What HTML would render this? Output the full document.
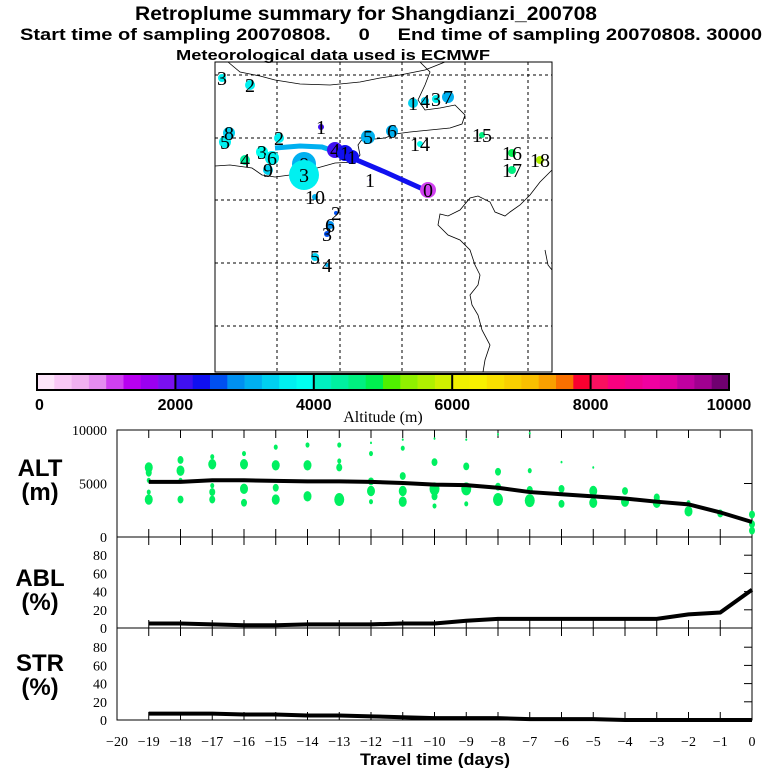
<!DOCTYPE html>
<html><head><meta charset="utf-8"><style>
html,body{margin:0;padding:0;background:#fff;}
svg{display:block;font-family:"Liberation Sans",sans-serif;}
</style></head><body>
<svg id="fig" width="768" height="768" viewBox="0 0 768 768">
<g font-weight="bold" text-anchor="middle">
<text x="366" y="20" font-size="19" textLength="462" lengthAdjust="spacingAndGlyphs">Retroplume summary for Shangdianzi_200708</text>
<text x="391" y="40" font-size="17" textLength="742" lengthAdjust="spacingAndGlyphs" style="white-space:pre" xml:space="preserve">Start time of sampling 20070808.     0     End time of sampling 20070808. 30000</text>
<text x="333" y="60" font-size="15" textLength="314" lengthAdjust="spacingAndGlyphs">Meteorological data used is ECMWF</text>
</g>

<g id="map">
<rect x="215" y="62" width="337" height="310" fill="none" stroke="#000" stroke-width="1"/>
<g stroke="#000" stroke-dasharray="3,3" stroke-width="1">
<line x1="277" y1="62" x2="277" y2="372"/><line x1="340" y1="62" x2="340" y2="372"/><line x1="402" y1="62" x2="402" y2="372"/><line x1="465" y1="62" x2="465" y2="372"/><line x1="528" y1="62" x2="528" y2="372"/>
<line x1="215" y1="75" x2="552" y2="75"/><line x1="215" y1="138" x2="552" y2="138"/><line x1="215" y1="200" x2="552" y2="200"/><line x1="215" y1="263" x2="552" y2="263"/><line x1="215" y1="326" x2="552" y2="326"/>
</g>
<g fill="none" stroke="#000" stroke-width="0.8">
<path d="M228,62 L240,72 L260,76 L275,80 L300,84 L330,85 L360,82 L380,78 L400,75 L425,70 L445,62"/>
<path d="M420,62 L430,72 L425,85 L418,100 L425,110 L440,108 L455,105 L465,115 L462,124 L450,128 L430,130 L410,132 L395,134 L385,138 L375,139 L363,138 L358,145 L360,155 L355,162 L335,163 L310,170 L290,175 L275,177 L262,175 L252,168 L230,165 L215,166"/>
<path d="M552,170 L540,182 L530,195 L520,205 L510,212 L505,216 L495,212 L490,202 L478,196 L470,198 L460,210 L448,216 L440,214 L438,225 L448,235 L460,240 L470,250 L475,265 L480,275 L478,285 L470,295 L472,305 L478,315 L482,330 L490,345 L485,360 L483,372"/>
<path d="M545,250 L548,265 L552,270"/>
</g>
<g>
<polyline points="275,148 300,146 322,147 345,155" fill="none" stroke="#00b0f0" stroke-width="5"/>
<polyline points="345,155 385,172 425,190" fill="none" stroke="#1010f0" stroke-width="5"/>
</g>
<g id="plumes" font-family="'Liberation Serif',serif" font-size="20" fill="#000"></g>
</g>

<g id="cbar"></g>
<text x="383" y="422" font-family="'Liberation Serif',serif" font-size="16" text-anchor="middle">Altitude (m)</text>

<g id="panels"></g>
</svg>
<script>
const NS='http://www.w3.org/2000/svg';
function mk(tag,attrs,parent,txt){const e=document.createElementNS(NS,tag);for(const k in attrs)e.setAttribute(k,attrs[k]);if(txt!==undefined)e.textContent=txt;parent.appendChild(e);return e;}

// ---- colorbar data ----
const cbColors=['#fde6fa','#f9c8f6','#f0b0f0','#e58cf0','#d040f0','#b800f0','#9a00f0','#7a10f0',
'#4010f0','#1010f0','#0050f0','#0090f0','#00b0f0','#00d0f0','#00f0f0','#00fff0',
'#00f0c0','#00f0a0','#00f080','#00f050','#50f000','#90f000','#b0f000','#d0f000',
'#f0f000','#f8f000','#fae000','#fad000','#fac000','#faa000','#fa7000','#fa0030',
'#fa1060','#fa0080','#f00090','#f000a0','#e000a0','#c000a0','#a00090','#700070'];
const cbTicks=[0,2000,4000,6000,8000,10000];

// ---- time-series data ----
const days=[-19,-18,-17,-16,-15,-14,-13,-12,-11,-10,-9,-8,-7,-6,-5,-4,-3,-2,-1,0];
const altLine=[5150,5150,5300,5300,5250,5200,5200,5150,5050,4900,4850,4600,4200,4000,3800,3600,3300,3050,2300,1400];
const ablLine=[5,5,4,3,3,4,4,4,5,5,8,10,10,10,10,10,10,15,17,42];
const strLine=[7,7,7,6,6,5,5,4,3,2,2,2,1,1,1,0,0,0,0,0];
const altPtDay=[-19,-19,-19,-19,-19,-18,-18,-18,-18,-17,-17,-17,-17,-17,-16,-16,-16,-16,-15,-15,-15,-15,-14,-14,-14,-13,-13,-13,-13,-12,-12,-12,-12,-12,-11,-11,-11,-11,-11,-10,-10,-10,-10,-10,-9,-9,-9,-9,-8,-8,-8,-8,-7,-7,-7,-7,-6,-6,-6,-5,-5,-5,-4,-4,-3,-3,-2,-2,-1,0,0,0];
const altPtVal=[6500,6000,5300,4200,3500,7200,6200,5300,3500,7500,6800,4800,4200,3500,7800,6800,4500,3200,8400,6700,4600,3500,8600,6700,3800,8600,7100,6500,3500,8800,7800,5200,4300,3300,9100,8300,5700,4300,3300,9200,7000,4500,3800,2900,9100,6600,4500,3100,9600,6100,4700,3500,9700,6200,4400,3400,7000,4500,3100,6500,4300,3200,4300,3300,3700,3200,3200,2400,2200,2100,1200,600];
const altPtSize=[4,3,2,2,4,3,4,2,3,2,4,2,3,3,2,4,4,3,2,4,3,4,2,4,4,2,2,3,5,1,2,3,4,2,1,2,3,4,4,1,3,5,3,2,1,3,5,2,1,3,3,5,1,2,3,5,1,3,3,1,4,4,3,4,3,4,2,4,3,3,3,3];
const dayTicks=[-20,-19,-18,-17,-16,-15,-14,-13,-12,-11,-10,-9,-8,-7,-6,-5,-4,-3,-2,-1,0];
const pctTicks=[0,20,40,60,80];
const altTicks=[0,5000,10000];

// ---- plume marker data (map) ----
const plumeLabel=['3','2','1','4','3','7','5','8','1','4','1','1','5','6','14','15','16','17','18','2','3','4','6','9','8','3','1','10','2','6','3','5','4','0'];
const plumeLon=[222,250,413,425,436,448,225,229,321,335,345,352,368,392,420,482,512,512,540,279,262,245,272,268,304,304,370,315,336,330,327,315,327,428];
const plumeLat=[78,85,103,101,99,97,142,133,127,150,153,157,137,131,144,135,153,170,160,138,152,160,158,170,164,175,180,197,213,225,234,257,265,190];
const plumeAlt=[3500,3500,3400,3400,3500,3200,3600,3400,2100,2200,2300,2300,3000,3200,3800,4700,4900,4700,5600,3600,3800,4300,3500,3400,3000,3600,2200,3000,2700,2800,2500,3400,3000,1000];
const plumeSize=[4,5,5,4,4,6,6,6,3,8,8,7,7,6,3,3,4,4,4,5,6,5,7,5,12,15,1,3,2,4,3,4,2,8];

function altColor(a){return cbColors[Math.max(0,Math.min(39,Math.floor(a/250)))];}

// colorbar
const cb=document.getElementById('cbar');
const cbX0=37,cbX1=729,cbY=374,cbH=16,cw=(cbX1-cbX0)/cbColors.length;
cbColors.forEach((c,i)=>{const r=mk('rect',{x:cbX0+i*cw,y:cbY,width:cw+0.3,height:cbH,fill:c},cb);

});
mk('rect',{x:cbX0,y:cbY,width:cbX1-cbX0,height:cbH,fill:'none',stroke:'#000','stroke-width':2},cb);
cbTicks.forEach(t=>{const x=cbX0+(t/10000)*(cbX1-cbX0);
if(t>0&&t<10000)mk('line',{x1:x,y1:cbY,x2:x,y2:cbY+cbH,stroke:'#000','stroke-width':2},cb);
const tx=mk('text',{x:t===0?x-2:x,y:410,'font-size':16,'font-weight':'bold','text-anchor':t===0?'start':'middle'},cb,String(t));

});

// plume markers
const pg=document.getElementById('plumes');
plumeLabel.forEach((l,i)=>{
const c=mk('circle',{cx:plumeLon[i],cy:plumeLat[i],r:plumeSize[i],fill:altColor(plumeAlt[i])},pg);


const t=mk('text',{x:plumeLon[i],y:plumeLat[i]+7,'text-anchor':'middle'},pg,l);

});

// panels
const P=document.getElementById('panels');
const xL=117,xR=752;
const xs=d=>xL+(d+20)/20*(xR-xL);
const altY=v=>537-v/10000*107;
const ablY=v=>628-v/100*91;
const strY=v=>720-v/100*91;
function frame(top,bot,name){const r=mk('rect',{x:xL,y:top,width:xR-xL,height:bot-top,fill:'none',stroke:'#000','stroke-width':1},P);


days.forEach(d=>{mk('line',{x1:xs(d),y1:top,x2:xs(d),y2:top+8,stroke:'#000'},P);mk('line',{x1:xs(d),y1:bot,x2:xs(d),y2:bot-8,stroke:'#000'},P);});}
frame(430,537,'alt-panel');frame(537,628,'abl-panel');frame(628,720,'str-panel');
altPtVal.forEach((v,i)=>{const r=altPtSize[i];const e=mk('ellipse',{cx:xs(altPtDay[i]),cy:altY(v),rx:r,ry:r*1.3,fill:'#00f060'},P);

});
function line(vals,yf,name){const p=mk('polyline',{points:days.map((d,i)=>xs(d)+','+yf(vals[i])).join(' '),fill:'none',stroke:'#000','stroke-width':4},P);

}
line(altLine,altY,'alt-median-line');line(ablLine,ablY,'abl-line');line(strLine,strY,'str-line');
function yt(vals,yf,fs){vals.forEach(v=>{mk('line',{x1:xR-8,y1:yf(v),x2:xR,y2:yf(v),stroke:'#000'},P);
const t=mk('text',{x:xL-10,y:yf(v)+5,'font-size':fs,'font-family':"'Liberation Serif',serif",'text-anchor':'end'},P,String(v));

});}
yt(altTicks,altY,14);yt(pctTicks,ablY,14);yt(pctTicks,strY,14);
dayTicks.forEach(d=>{const t=mk('text',{x:xs(d),y:746,'font-size':14,'font-family':"'Liberation Serif',serif",'text-anchor':'middle'},P,d<0?'\u2212'+(-d):String(d));

});
const xt=mk('text',{x:435,y:765,'font-size':17,'font-weight':'bold','text-anchor':'middle',textLength:150,lengthAdjust:'spacingAndGlyphs'},P,'Travel time (days)');


[['ALT',476,'alt-axis-title'],['(m)',500,'alt-unit'],['ABL',586,'abl-axis-title'],['(%)',610,'abl-unit'],['STR',671,'str-axis-title'],['(%)',695,'str-unit']].forEach(a=>{
const t=mk('text',{x:40,y:a[1],'font-size':24,'font-weight':'bold','text-anchor':'middle'},P,a[0]);

});
</script>
</body></html>
